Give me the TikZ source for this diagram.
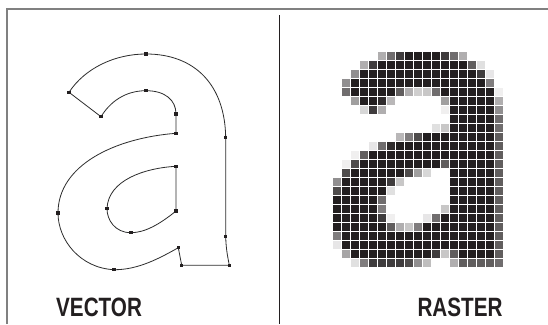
\documentclass[tikz,border=0pt]{standalone}
\usepackage{graphicx}
\usepackage{fontspec}
\setmainfont{Liberation Sans}
\definecolor{ink}{RGB}{35,31,32}
\definecolor{framegrey}{RGB}{128,128,128}
\definecolor{outline}{RGB}{45,45,45}
\begin{document}
\begin{tikzpicture}[x=1pt,y=-1pt,
  vpt/.style={fill=ink, rectangle, minimum size=3.2pt, inner sep=0pt, outer sep=0pt},
  outl/.style={draw=outline, line width=0.8pt, line join=round},
  lbl/.style={font=\bfseries\fontsize{26.5}{30}\selectfont, text=ink, inner sep=0pt, anchor=base west}]
\useasboundingbox (0,0) rectangle (548,324);
\fill[white] (0,0) rectangle (548,324);
% frame and divider
\draw[framegrey, line width=1.3pt] (7,324) -- (7,9) -- (548,9);
\draw[ink, line width=1.2pt] (279.7,15) -- (279.7,324);
% vector outline points
\coordinate (a1) at (69,92.3);
\coordinate (a2) at (146,54);
\coordinate (a3) at (225.7,137.7);
\coordinate (a4) at (225.7,236.3);
\coordinate (a5) at (229.3,265.3);
\coordinate (a6) at (181.7,265.3);
\coordinate (a7) at (178.3,247.7);
\coordinate (a8) at (114,269.7);
\coordinate (a9) at (58,213);
\coordinate (a10) at (176,133.3);
\coordinate (a11) at (176,114);
\coordinate (a12) at (146,90.7);
\coordinate (a13) at (101,116.7);
\coordinate (b1) at (176,166.3);
\coordinate (b2) at (176,211);
\coordinate (b3) at (131,232.7);
\coordinate (b4) at (107,208.7);
\draw[outl] (a1) .. controls (85,68) and (115,54) .. (a2)
  .. controls (195,54) and (225,85) .. (a3) -- (a4)
  .. controls (226,250) and (228,258) .. (a5) -- (a6) -- (a7)
  .. controls (160,258) and (138,270) .. (a8)
  .. controls (80,268) and (58,240) .. (a9)
  .. controls (58,165) and (115,138) .. (a10) -- (a11)
  .. controls (176,100) and (165,90.7) .. (a12)
  .. controls (125,90.7) and (110,102) .. (a13) -- cycle;
\draw[outl] (b1) -- (b2)
  .. controls (160,224) and (145,232.7) .. (b3)
  .. controls (115,232.7) and (107,220) .. (b4)
  .. controls (108,180) and (145,168) .. cycle;
\foreach \p in {a1,a2,a3,a4,a5,a6,a7,a8,a9,a10,a11,a12,a13,b1,b2,b3,b4}
  \node[vpt] (n\p) at (\p) {};
% raster
\foreach \row [count=\r from 0] in {
 {0,0,0,0,0,36,65,87,100,100,100,100,87,65,36,0,0,0,0},
 {0,0,0,36,87,100,100,100,100,100,100,100,100,100,100,72,14,0,0},
 {0,0,50,100,100,100,100,100,100,100,100,100,100,100,100,100,87,11,0},
 {0,50,100,100,100,100,100,100,100,100,100,100,100,100,100,100,100,58,0},
 {0,65,100,100,100,100,100,72,36,22,25,65,100,100,100,100,100,100,7},
 {0,0,43,100,100,94,32,0,0,0,0,0,43,100,100,100,100,100,36},
 {0,0,0,18,87,36,0,0,0,0,0,0,7,100,100,100,100,100,50},
 {0,0,0,0,0,0,0,0,0,0,0,0,0,100,100,100,100,100,65},
 {0,0,0,0,0,0,0,0,0,0,0,14,25,100,100,100,100,100,65},
 {0,0,0,0,0,0,0,32,58,80,100,100,100,100,100,100,100,100,72},
 {0,0,0,0,11,65,94,100,100,100,100,100,100,100,100,100,100,100,72},
 {0,0,7,72,100,100,100,100,100,100,100,100,100,100,100,100,100,100,72},
 {0,7,80,100,100,100,100,100,100,100,100,100,72,100,100,100,100,100,72},
 {0,80,100,100,100,100,100,100,80,43,18,0,0,100,100,100,100,100,72},
 {50,100,100,100,100,100,87,25,0,0,0,0,0,100,100,100,100,100,72},
 {80,100,100,100,100,100,14,0,0,0,0,0,0,100,100,100,100,100,72},
 {100,100,100,100,100,65,0,0,0,0,0,0,0,100,100,100,100,100,72},
 {100,100,100,100,100,58,0,0,0,0,0,0,25,100,100,100,100,100,72},
 {100,100,100,100,100,87,7,0,0,0,11,65,100,100,100,100,100,100,72},
 {100,100,100,100,100,100,72,36,25,58,100,100,100,100,100,100,100,100,72},
 {58,100,100,100,100,100,100,100,100,100,100,100,100,100,100,100,100,100,72},
 {11,100,100,100,100,100,100,100,100,100,100,100,100,100,100,100,100,100,72},
 {0,40,100,100,100,100,100,100,100,100,100,87,25,72,100,100,100,100,72},
 {0,0,14,58,87,87,87,87,80,50,29,0,0,36,72,72,72,72,65}} {
  \foreach \v [count=\k from 0] in \row {
    \ifnum\v>0
      \fill[ink!\v!white] (332.7+9*\k+0.6, 51.7+9*\r+0.6) rectangle ++(7.8,7.8);
    \fi
  }
}
% labels
\node[lbl] (vec) at (56,316) {\scalebox{0.78}[1]{VECTOR}};
\node[lbl] (ras) at (417.3,316) {\scalebox{0.78}[1]{RASTER}};
\end{tikzpicture}
\end{document}
